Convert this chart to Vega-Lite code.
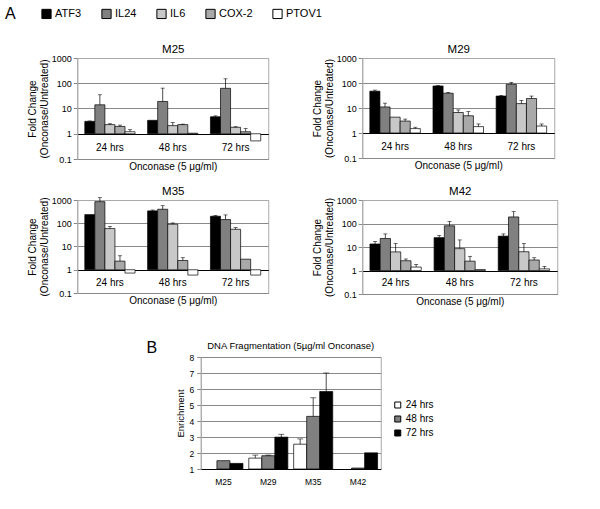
{
  "$schema": "https://vega.github.io/schema/vega-lite/v6.json",
  "background": "white",
  "padding": {"left": 5, "top": 8, "right": 5, "bottom": 5},
  "config": {
    "font": "Liberation Sans",
    "view": {"stroke": "#aaa", "strokeWidth": 1},
    "title": {"fontWeight": "normal", "fontSize": 11.5, "color": "black", "offset": 4},
    "axis": {"labelColor": "black", "titleColor": "black", "titleFontWeight": "normal", "tickColor": "#888", "domainColor": "#aaa"},
    "legend": {"labelColor": "black", "symbolType": "square", "symbolStrokeColor": "black", "symbolStrokeWidth": 1, "titleColor": "black", "titleFontWeight": "normal"}
  },
  "datasets": {
    "a": [
      {"p": "M25", "t": "24 hrs", "g": "ATF3", "v": 3.1, "hi": 3.2},
      {"p": "M25", "t": "24 hrs", "g": "IL24", "v": 14, "hi": 35},
      {"p": "M25", "t": "24 hrs", "g": "IL6", "v": 2.3, "hi": 2.5},
      {"p": "M25", "t": "24 hrs", "g": "COX-2", "v": 1.95, "hi": 2.2},
      {"p": "M25", "t": "24 hrs", "g": "PTOV1", "v": 1.2, "hi": 1.45},
      {"p": "M25", "t": "48 hrs", "g": "ATF3", "v": 3.4, "hi": null},
      {"p": "M25", "t": "48 hrs", "g": "IL24", "v": 19, "hi": 64},
      {"p": "M25", "t": "48 hrs", "g": "IL6", "v": 2.1, "hi": 2.8},
      {"p": "M25", "t": "48 hrs", "g": "COX-2", "v": 2.3, "hi": 2.4},
      {"p": "M25", "t": "48 hrs", "g": "PTOV1", "v": 1.05, "hi": null},
      {"p": "M25", "t": "72 hrs", "g": "ATF3", "v": 4.7, "hi": 5.1},
      {"p": "M25", "t": "72 hrs", "g": "IL24", "v": 63, "hi": 150},
      {"p": "M25", "t": "72 hrs", "g": "IL6", "v": 1.8, "hi": 1.9},
      {"p": "M25", "t": "72 hrs", "g": "COX-2", "v": 1.2, "hi": 1.6},
      {"p": "M25", "t": "72 hrs", "g": "PTOV1", "v": 0.52, "hi": null},
      {"p": "M29", "t": "24 hrs", "g": "ATF3", "v": 47, "hi": 52},
      {"p": "M29", "t": "24 hrs", "g": "IL24", "v": 11, "hi": 15.6},
      {"p": "M29", "t": "24 hrs", "g": "IL6", "v": 4.3, "hi": null},
      {"p": "M29", "t": "24 hrs", "g": "COX-2", "v": 3.0, "hi": 3.6},
      {"p": "M29", "t": "24 hrs", "g": "PTOV1", "v": 1.5, "hi": 1.7},
      {"p": "M29", "t": "48 hrs", "g": "ATF3", "v": 76, "hi": 80},
      {"p": "M29", "t": "48 hrs", "g": "IL24", "v": 39, "hi": 42},
      {"p": "M29", "t": "48 hrs", "g": "IL6", "v": 6.6, "hi": 8.4},
      {"p": "M29", "t": "48 hrs", "g": "COX-2", "v": 4.9, "hi": 7.2},
      {"p": "M29", "t": "48 hrs", "g": "PTOV1", "v": 1.8, "hi": 2.3},
      {"p": "M29", "t": "72 hrs", "g": "ATF3", "v": 30, "hi": 32},
      {"p": "M29", "t": "72 hrs", "g": "IL24", "v": 89, "hi": 106},
      {"p": "M29", "t": "72 hrs", "g": "IL6", "v": 15, "hi": 20},
      {"p": "M29", "t": "72 hrs", "g": "COX-2", "v": 24, "hi": 30},
      {"p": "M29", "t": "72 hrs", "g": "PTOV1", "v": 1.9, "hi": 2.3},
      {"p": "M35", "t": "24 hrs", "g": "ATF3", "v": 235, "hi": null},
      {"p": "M35", "t": "24 hrs", "g": "IL24", "v": 850, "hi": 1260},
      {"p": "M35", "t": "24 hrs", "g": "IL6", "v": 59, "hi": 72},
      {"p": "M35", "t": "24 hrs", "g": "COX-2", "v": 2.35, "hi": 4.0},
      {"p": "M35", "t": "24 hrs", "g": "PTOV1", "v": 0.72, "hi": null},
      {"p": "M35", "t": "48 hrs", "g": "ATF3", "v": 340, "hi": 370},
      {"p": "M35", "t": "48 hrs", "g": "IL24", "v": 400, "hi": 570},
      {"p": "M35", "t": "48 hrs", "g": "IL6", "v": 91, "hi": 103},
      {"p": "M35", "t": "48 hrs", "g": "COX-2", "v": 2.5, "hi": 3.3},
      {"p": "M35", "t": "48 hrs", "g": "PTOV1", "v": 0.59, "hi": null},
      {"p": "M35", "t": "72 hrs", "g": "ATF3", "v": 200, "hi": 215},
      {"p": "M35", "t": "72 hrs", "g": "IL24", "v": 144, "hi": 228},
      {"p": "M35", "t": "72 hrs", "g": "IL6", "v": 55, "hi": 65},
      {"p": "M35", "t": "72 hrs", "g": "COX-2", "v": 2.85, "hi": null},
      {"p": "M35", "t": "72 hrs", "g": "PTOV1", "v": 0.59, "hi": null},
      {"p": "M42", "t": "24 hrs", "g": "ATF3", "v": 13.4, "hi": 17},
      {"p": "M42", "t": "24 hrs", "g": "IL24", "v": 23, "hi": 36},
      {"p": "M42", "t": "24 hrs", "g": "IL6", "v": 6.2, "hi": 14},
      {"p": "M42", "t": "24 hrs", "g": "COX-2", "v": 2.6, "hi": 3.1},
      {"p": "M42", "t": "24 hrs", "g": "PTOV1", "v": 1.4, "hi": 1.8},
      {"p": "M42", "t": "48 hrs", "g": "ATF3", "v": 25, "hi": 31},
      {"p": "M42", "t": "48 hrs", "g": "IL24", "v": 80, "hi": 121},
      {"p": "M42", "t": "48 hrs", "g": "IL6", "v": 8.5, "hi": 20},
      {"p": "M42", "t": "48 hrs", "g": "COX-2", "v": 2.5, "hi": 4.0},
      {"p": "M42", "t": "48 hrs", "g": "PTOV1", "v": 1.1, "hi": null},
      {"p": "M42", "t": "72 hrs", "g": "ATF3", "v": 29, "hi": 36},
      {"p": "M42", "t": "72 hrs", "g": "IL24", "v": 190, "hi": 320},
      {"p": "M42", "t": "72 hrs", "g": "IL6", "v": 6.3, "hi": 14},
      {"p": "M42", "t": "72 hrs", "g": "COX-2", "v": 2.8, "hi": 3.5},
      {"p": "M42", "t": "72 hrs", "g": "PTOV1", "v": 1.17, "hi": 1.5}
    ],
    "b": [
      {"s": "M25", "t": "48 hrs", "v": 1.52, "hi": null},
      {"s": "M25", "t": "72 hrs", "v": 1.35, "hi": null},
      {"s": "M29", "t": "24 hrs", "v": 1.68, "hi": 1.87},
      {"s": "M29", "t": "48 hrs", "v": 1.83, "hi": 1.87},
      {"s": "M29", "t": "72 hrs", "v": 2.99, "hi": 3.17},
      {"s": "M35", "t": "24 hrs", "v": 2.55, "hi": 2.88},
      {"s": "M35", "t": "48 hrs", "v": 4.29, "hi": 5.45},
      {"s": "M35", "t": "72 hrs", "v": 5.84, "hi": 7.0},
      {"s": "M42", "t": "48 hrs", "v": 1.06, "hi": null},
      {"s": "M42", "t": "72 hrs", "v": 2.01, "hi": null}
    ]
  },
  "resolve": {"scale": {"color": "independent", "xOffset": "independent"}},
  "center": true,
  "spacing": 33,
  "vconcat": [
    {
      "spacing": 12,
      "resolve": {"scale": {"xOffset": "independent"}},
      "vconcat": [
        {
          "spacing": 42,
          "resolve": {"scale": {"xOffset": "independent"}},
          "hconcat": [
            {
              "width": 191, "height": 101,
              "data": {"name": "a"},
              "transform": [{"filter": "datum.p == 'M25'"}],
              "resolve": {"axis": {"x": "independent", "y": "independent"}},
              "layer": [
                {"mark": {"type": "bar", "stroke": "black", "strokeWidth": 0.7},
                 "encoding": {
                   "x": {"field": "t", "type": "nominal", "scale": {"paddingInner": 0.2, "paddingOuter": 0.12}, "axis": {"title": "Onconase (5 μg/ml)", "titleFontSize": 10, "labels": false, "ticks": false, "domain": false, "titlePadding": 2}},
                   "xOffset": {"field": "g", "type": "nominal", "scale": {"domain": ["ATF3", "IL24", "IL6", "COX-2", "PTOV1"], "paddingInner": 0}},
                   "y": {"field": "v", "type": "quantitative", "scale": {"type": "log", "domain": [0.1, 1000]}, "axis": {"values": [0.1, 1, 10, 100, 1000], "format": "~g", "labelFontSize": 9, "labelPadding": 2, "tickSize": 4, "title": ["Fold Change", "(Onconase/Untreated)"], "titleFontSize": 10, "titleLineHeight": 12, "titlePadding": 2, "gridColor": {"condition": [{"test": "datum.value == 1", "value": "black"}, {"test": "datum.value == 1000", "value": "#aaa"}], "value": "#888"}}},
                   "y2": {"datum": 1},
                   "fill": {"field": "g", "type": "nominal", "scale": {"domain": ["ATF3", "IL24", "IL6", "COX-2", "PTOV1"], "range": ["#000000", "#808080", "#c8c8c8", "#a9a9a9", "#ffffff"]}, "legend": {"title": "A", "titleOrient": "left", "titleFontSize": 16, "titlePadding": 25, "orient": "none", "legendX": -72, "legendY": -50, "direction": "horizontal", "columns": 5, "columnPadding": 17, "labelFontSize": 11, "symbolSize": 85, "labelOffset": 3}}
                 }},
                {"transform": [{"filter": "isValid(datum.hi)"}], "mark": {"type": "rule", "color": "black", "strokeWidth": 0.7},
                 "encoding": {"x": {"field": "t", "type": "nominal", "axis": null}, "xOffset": {"field": "g", "type": "nominal", "scale": {"domain": ["ATF3", "IL24", "IL6", "COX-2", "PTOV1"], "paddingInner": 0}}, "y": {"field": "v", "type": "quantitative", "axis": null}, "y2": {"field": "hi"}}},
                {"transform": [{"filter": "isValid(datum.hi)"}], "mark": {"type": "tick", "color": "black", "size": 4, "thickness": 0.8},
                 "encoding": {"x": {"field": "t", "type": "nominal", "axis": null}, "xOffset": {"field": "g", "type": "nominal", "scale": {"domain": ["ATF3", "IL24", "IL6", "COX-2", "PTOV1"], "paddingInner": 0}}, "y": {"field": "hi", "type": "quantitative", "axis": null}}},
                {"transform": [{"filter": "datum.g == 'ATF3'"}], "mark": {"type": "text", "fontSize": 10, "color": "black"},
                 "encoding": {"x": {"field": "t", "type": "nominal", "axis": {"orient": "top", "title": "M25", "titleFontSize": 11.5, "labels": false, "ticks": false, "domain": false, "titlePadding": 4}}, "y": {"datum": 0.28, "type": "quantitative", "axis": null}, "text": {"field": "t"}}}
              ]
            },
            {
              "width": 192, "height": 100,
              "data": {"name": "a"},
              "transform": [{"filter": "datum.p == 'M29'"}],
              "resolve": {"axis": {"x": "independent", "y": "independent"}},
              "layer": [
                {"mark": {"type": "bar", "stroke": "black", "strokeWidth": 0.7},
                 "encoding": {
                   "x": {"field": "t", "type": "nominal", "scale": {"paddingInner": 0.2, "paddingOuter": 0.12}, "axis": {"title": "Onconase (5 μg/ml)", "titleFontSize": 10, "labels": false, "ticks": false, "domain": false, "titlePadding": 2}},
                   "xOffset": {"field": "g", "type": "nominal", "scale": {"domain": ["ATF3", "IL24", "IL6", "COX-2", "PTOV1"], "paddingInner": 0}},
                   "y": {"field": "v", "type": "quantitative", "scale": {"type": "log", "domain": [0.1, 1000]}, "axis": {"values": [0.1, 1, 10, 100, 1000], "format": "~g", "labelFontSize": 9, "labelPadding": 2, "tickSize": 4, "title": ["Fold Change", "(Onconase/Untreated)"], "titleFontSize": 10, "titleLineHeight": 12, "titlePadding": 2, "gridColor": {"condition": [{"test": "datum.value == 1", "value": "black"}, {"test": "datum.value == 1000", "value": "#aaa"}], "value": "#888"}}},
                   "y2": {"datum": 1},
                   "fill": {"field": "g", "type": "nominal", "scale": {"domain": ["ATF3", "IL24", "IL6", "COX-2", "PTOV1"], "range": ["#000000", "#808080", "#c8c8c8", "#a9a9a9", "#ffffff"]}}
                 }},
                {"transform": [{"filter": "isValid(datum.hi)"}], "mark": {"type": "rule", "color": "black", "strokeWidth": 0.7},
                 "encoding": {"x": {"field": "t", "type": "nominal", "axis": null}, "xOffset": {"field": "g", "type": "nominal", "scale": {"domain": ["ATF3", "IL24", "IL6", "COX-2", "PTOV1"], "paddingInner": 0}}, "y": {"field": "v", "type": "quantitative", "axis": null}, "y2": {"field": "hi"}}},
                {"transform": [{"filter": "isValid(datum.hi)"}], "mark": {"type": "tick", "color": "black", "size": 4, "thickness": 0.8},
                 "encoding": {"x": {"field": "t", "type": "nominal", "axis": null}, "xOffset": {"field": "g", "type": "nominal", "scale": {"domain": ["ATF3", "IL24", "IL6", "COX-2", "PTOV1"], "paddingInner": 0}}, "y": {"field": "hi", "type": "quantitative", "axis": null}}},
                {"transform": [{"filter": "datum.g == 'ATF3'"}], "mark": {"type": "text", "fontSize": 10, "color": "black"},
                 "encoding": {"x": {"field": "t", "type": "nominal", "axis": {"orient": "top", "title": "M29", "titleFontSize": 11.5, "labels": false, "ticks": false, "domain": false, "titlePadding": 4}}, "y": {"datum": 0.28, "type": "quantitative", "axis": null}, "text": {"field": "t"}}}
              ]
            }
          ]
        },
        {
          "spacing": 42,
          "resolve": {"scale": {"xOffset": "independent"}},
          "hconcat": [
            {
              "width": 191, "height": 93,
              "data": {"name": "a"},
              "transform": [{"filter": "datum.p == 'M35'"}],
              "resolve": {"axis": {"x": "independent", "y": "independent"}},
              "layer": [
                {"mark": {"type": "bar", "stroke": "black", "strokeWidth": 0.7},
                 "encoding": {
                   "x": {"field": "t", "type": "nominal", "scale": {"paddingInner": 0.2, "paddingOuter": 0.12}, "axis": {"title": "Onconase (5 μg/ml)", "titleFontSize": 10, "labels": false, "ticks": false, "domain": false, "titlePadding": 2}},
                   "xOffset": {"field": "g", "type": "nominal", "scale": {"domain": ["ATF3", "IL24", "IL6", "COX-2", "PTOV1"], "paddingInner": 0}},
                   "y": {"field": "v", "type": "quantitative", "scale": {"type": "log", "domain": [0.1, 1000]}, "axis": {"values": [0.1, 1, 10, 100, 1000], "format": "~g", "labelFontSize": 9, "labelPadding": 2, "tickSize": 4, "title": ["Fold Change", "(Onconase/Untreated)"], "titleFontSize": 10, "titleLineHeight": 12, "titlePadding": 2, "gridColor": {"condition": [{"test": "datum.value == 1", "value": "black"}, {"test": "datum.value == 1000", "value": "#aaa"}], "value": "#888"}}},
                   "y2": {"datum": 1},
                   "fill": {"field": "g", "type": "nominal", "scale": {"domain": ["ATF3", "IL24", "IL6", "COX-2", "PTOV1"], "range": ["#000000", "#808080", "#c8c8c8", "#a9a9a9", "#ffffff"]}}
                 }},
                {"transform": [{"filter": "isValid(datum.hi)"}], "mark": {"type": "rule", "color": "black", "strokeWidth": 0.7},
                 "encoding": {"x": {"field": "t", "type": "nominal", "axis": null}, "xOffset": {"field": "g", "type": "nominal", "scale": {"domain": ["ATF3", "IL24", "IL6", "COX-2", "PTOV1"], "paddingInner": 0}}, "y": {"field": "v", "type": "quantitative", "axis": null}, "y2": {"field": "hi"}}},
                {"transform": [{"filter": "isValid(datum.hi)"}], "mark": {"type": "tick", "color": "black", "size": 4, "thickness": 0.8},
                 "encoding": {"x": {"field": "t", "type": "nominal", "axis": null}, "xOffset": {"field": "g", "type": "nominal", "scale": {"domain": ["ATF3", "IL24", "IL6", "COX-2", "PTOV1"], "paddingInner": 0}}, "y": {"field": "hi", "type": "quantitative", "axis": null}}},
                {"transform": [{"filter": "datum.g == 'ATF3'"}], "mark": {"type": "text", "fontSize": 10, "color": "black"},
                 "encoding": {"x": {"field": "t", "type": "nominal", "axis": {"orient": "top", "title": "M35", "titleFontSize": 11.5, "labels": false, "ticks": false, "domain": false, "titlePadding": 4}}, "y": {"datum": 0.28, "type": "quantitative", "axis": null}, "text": {"field": "t"}}}
              ]
            },
            {
              "width": 195, "height": 94,
              "data": {"name": "a"},
              "transform": [{"filter": "datum.p == 'M42'"}],
              "resolve": {"axis": {"x": "independent", "y": "independent"}},
              "layer": [
                {"mark": {"type": "bar", "stroke": "black", "strokeWidth": 0.7},
                 "encoding": {
                   "x": {"field": "t", "type": "nominal", "scale": {"paddingInner": 0.2, "paddingOuter": 0.12}, "axis": {"title": "Onconase (5 μg/ml)", "titleFontSize": 10, "labels": false, "ticks": false, "domain": false, "titlePadding": 2}},
                   "xOffset": {"field": "g", "type": "nominal", "scale": {"domain": ["ATF3", "IL24", "IL6", "COX-2", "PTOV1"], "paddingInner": 0}},
                   "y": {"field": "v", "type": "quantitative", "scale": {"type": "log", "domain": [0.1, 1000]}, "axis": {"values": [0.1, 1, 10, 100, 1000], "format": "~g", "labelFontSize": 9, "labelPadding": 2, "tickSize": 4, "title": ["Fold Change", "(Onconase/Untreated)"], "titleFontSize": 10, "titleLineHeight": 12, "titlePadding": 2, "gridColor": {"condition": [{"test": "datum.value == 1", "value": "black"}, {"test": "datum.value == 1000", "value": "#aaa"}], "value": "#888"}}},
                   "y2": {"datum": 1},
                   "fill": {"field": "g", "type": "nominal", "scale": {"domain": ["ATF3", "IL24", "IL6", "COX-2", "PTOV1"], "range": ["#000000", "#808080", "#c8c8c8", "#a9a9a9", "#ffffff"]}}
                 }},
                {"transform": [{"filter": "isValid(datum.hi)"}], "mark": {"type": "rule", "color": "black", "strokeWidth": 0.7},
                 "encoding": {"x": {"field": "t", "type": "nominal", "axis": null}, "xOffset": {"field": "g", "type": "nominal", "scale": {"domain": ["ATF3", "IL24", "IL6", "COX-2", "PTOV1"], "paddingInner": 0}}, "y": {"field": "v", "type": "quantitative", "axis": null}, "y2": {"field": "hi"}}},
                {"transform": [{"filter": "isValid(datum.hi)"}], "mark": {"type": "tick", "color": "black", "size": 4, "thickness": 0.8},
                 "encoding": {"x": {"field": "t", "type": "nominal", "axis": null}, "xOffset": {"field": "g", "type": "nominal", "scale": {"domain": ["ATF3", "IL24", "IL6", "COX-2", "PTOV1"], "paddingInner": 0}}, "y": {"field": "hi", "type": "quantitative", "axis": null}}},
                {"transform": [{"filter": "datum.g == 'ATF3'"}], "mark": {"type": "text", "fontSize": 10, "color": "black"},
                 "encoding": {"x": {"field": "t", "type": "nominal", "axis": {"orient": "top", "title": "M42", "titleFontSize": 11.5, "labels": false, "ticks": false, "domain": false, "titlePadding": 4}}, "y": {"datum": 0.28, "type": "quantitative", "axis": null}, "text": {"field": "t"}}}
              ]
            }
          ]
        }
      ]
    },
    {
      "title": {"text": "B", "anchor": "start", "frame": "bounds", "fontSize": 16, "offset": -16, "dx": -28},
      "resolve": {"scale": {"color": "independent", "xOffset": "independent"}},
      "vconcat": [
        {
          "title": {"text": "DNA Fragmentation (5µg/ml Onconase)", "fontSize": 9.5, "offset": 3},
          "width": 180, "height": 112,
          "data": {"name": "b"},
          "resolve": {"axis": {"x": "independent", "y": "independent"}},
          "layer": [
            {"mark": {"type": "bar", "stroke": "black", "strokeWidth": 0.7},
             "encoding": {
               "x": {"field": "s", "type": "nominal", "scale": {"paddingInner": 0.13, "paddingOuter": 0.07}, "axis": {"title": null, "labelAngle": 0, "ticks": false, "domainColor": "black", "labelFontSize": 8.5, "labelPadding": 8}},
               "xOffset": {"field": "t", "type": "nominal", "scale": {"domain": ["24 hrs", "48 hrs", "72 hrs"], "paddingInner": 0}},
               "y": {"field": "v", "type": "quantitative", "scale": {"domain": [1, 8], "nice": false, "zero": false}, "axis": {"values": [1, 2, 3, 4, 5, 6, 7, 8], "grid": true, "labelFontSize": 8.5, "labelPadding": 3, "tickSize": 4, "title": "Enrichment", "titleFontSize": 9.5, "titlePadding": 4, "gridColor": "#888", "domainColor": "#aaa"}},
               "y2": {"datum": 1},
               "color": {"field": "t", "type": "nominal", "scale": {"domain": ["24 hrs", "48 hrs", "72 hrs"], "range": ["#ffffff", "#808080", "#000000"]}, "legend": {"title": null, "orient": "none", "legendX": 192, "legendY": 43, "labelFontSize": 10, "symbolSize": 36, "rowPadding": 4, "labelOffset": 3}}
             }},
            {"transform": [{"filter": "isValid(datum.hi)"}], "mark": {"type": "rule", "color": "black", "strokeWidth": 0.7},
             "encoding": {"x": {"field": "s", "type": "nominal", "axis": null}, "xOffset": {"field": "t", "type": "nominal", "scale": {"domain": ["24 hrs", "48 hrs", "72 hrs"], "paddingInner": 0}}, "y": {"field": "v", "type": "quantitative", "axis": null}, "y2": {"field": "hi"}}},
            {"transform": [{"filter": "isValid(datum.hi)"}], "mark": {"type": "tick", "color": "black", "size": 6, "thickness": 0.8},
             "encoding": {"x": {"field": "s", "type": "nominal", "axis": null}, "xOffset": {"field": "t", "type": "nominal", "scale": {"domain": ["24 hrs", "48 hrs", "72 hrs"], "paddingInner": 0}}, "y": {"field": "hi", "type": "quantitative", "axis": null}}}
          ]
        }
      ]
    }
  ]
}
